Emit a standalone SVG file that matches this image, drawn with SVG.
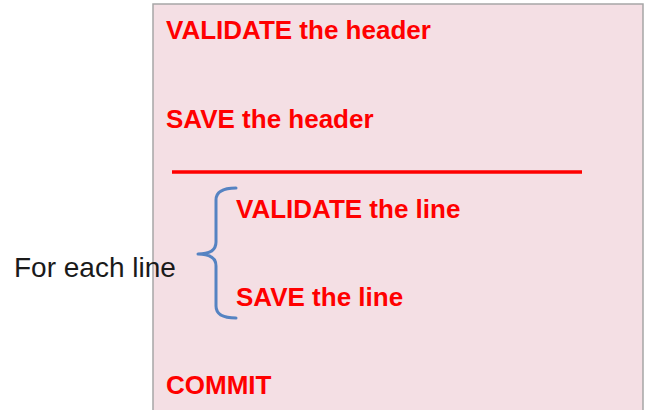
<svg xmlns="http://www.w3.org/2000/svg" width="645" height="410" viewBox="0 0 645 410">
  <style>
    .step { font-family: "Liberation Sans", Arial, sans-serif; font-size: 26px; font-weight: bold; fill: #ff0000; }
    .note { font-family: "Liberation Sans", Arial, sans-serif; font-size: 28px; fill: #1a1a1a; }
  </style>
  <rect width="645" height="410" fill="#ffffff"/>
  <g id="panel">
    <rect x="153" y="4" width="490" height="420" fill="#f4dfe4" stroke="#a6a6a6" stroke-width="1.5"/>
  </g>
  <g id="header-steps">
    <text class="step" x="166" y="39">VALIDATE the header</text>
    <text class="step" x="166" y="128">SAVE the header</text>
  </g>
  <g id="separator">
    <line x1="172" y1="172" x2="582" y2="172" stroke="#ff0000" stroke-width="3.5"/>
  </g>
  <g id="line-steps">
    <text class="step" x="236" y="218">VALIDATE the line</text>
    <text class="step" x="236" y="306">SAVE the line</text>
  </g>
  <g id="connectors">
    <path d="M236,188 Q216,188 216,200 L216,242 Q216,254 198,254 Q216,254 216,266 L216,306 Q216,318 236,318" fill="none" stroke="#5583c2" stroke-width="3" stroke-linejoin="round" stroke-linecap="round"/>
  </g>
  <g id="loop-label">
    <text class="note" x="14" y="277">For each line</text>
  </g>
  <g id="commit-step">
    <text class="step" x="166" y="394">COMMIT</text>
  </g>
</svg>
